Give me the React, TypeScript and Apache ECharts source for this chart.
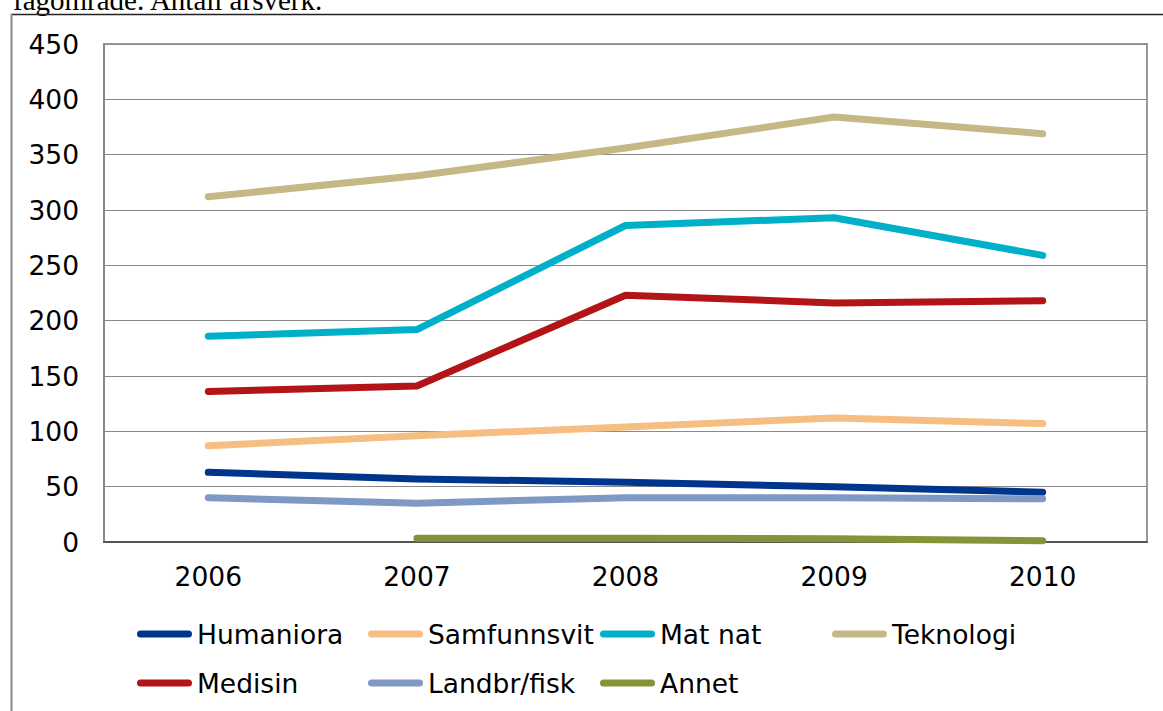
import React, { useEffect, useRef } from "react";
import * as echarts from "echarts";

const years = ["2006", "2007", "2008", "2009", "2010"];
const seriesNames = ["Humaniora", "Samfunnsvit", "Mat nat", "Teknologi", "Medisin", "Landbr/fisk", "Annet"];
const humaniora = [63, 57, 54, 50, 45];
const samfunnsvit = [87, 96, 104, 112, 107];
const matNat = [186, 192, 286, 293, 259];
const teknologi = [312, 331, 356, 384, 369];
const medisin = [136, 141, 223, 216, 218];
const landbrFisk = [40, 35, 40, 40, 39];
const annet = [null, 3.5, 3.5, 3, 1.2];
const seriesValues = [humaniora, samfunnsvit, matNat, teknologi, medisin, landbrFisk, annet];
const seriesColors = ["#00358E", "#F6BE82", "#00B0C9", "#C5B886", "#B21417", "#7F98C4", "#869339"];
const yTicks = [0, 450, 50];
const titleText = "fagområde. Antall årsverk.";

const legendPos = [
  [137, 619], [368, 619], [600, 619], [832, 619],
  [137, 668], [368, 668], [600, 668],
];

const FONT = "DejaVu Sans";

export default function App() {
  const ref = useRef<HTMLDivElement>(null);
  useEffect(() => {
    const chart = echarts.init(ref.current!, null, { renderer: "svg" });
    const icon = "path://M3.5,0 H51.5 A3.5,3.5 0 0 1 51.5,7 H3.5 A3.5,3.5 0 0 1 3.5,0 Z";
    chart.setOption({
      animation: false,
      backgroundColor: "#fff",
      grid: {
        left: 104, top: 44, right: 16, bottom: 169,
        show: true, borderColor: "#999", borderWidth: 2, backgroundColor: "transparent",
      },
      legend: seriesNames.map((n, i) => ({
        data: [{ name: n, icon }],
        left: legendPos[i][0],
        top: legendPos[i][1],
        itemWidth: 55,
        itemHeight: 7,
        padding: 0,
        selectedMode: false,
        textStyle: { fontFamily: FONT, fontSize: 26.5, color: "#000", lineHeight: 30 },
      })),
      xAxis: {
        type: "category",
        data: years,
        boundaryGap: true,
        axisLine: { show: true, lineStyle: { color: "#555", width: 2 } },
        axisTick: { show: false },
        axisLabel: { fontFamily: FONT, fontSize: 26.5, color: "#000", margin: 21 },
        splitLine: { show: false },
      },
      yAxis: {
        type: "value",
        min: yTicks[0],
        max: yTicks[1],
        interval: yTicks[2],
        axisLine: { show: true, lineStyle: { color: "#888", width: 2 } },
        axisTick: { show: false },
        axisLabel: { fontFamily: FONT, fontSize: 26.5, color: "#000", margin: 25 },
        splitLine: { show: true, lineStyle: { color: "#8a8a8a", width: 1 } },
      },
      graphic: [
        {
          type: "text",
          left: undefined,
          x: 13,
          y: 0,
          style: {
            text: titleText,
            font: '29px "Liberation Serif"',
            fill: "#000",
            verticalAlign: "middle",
            align: "left",
          },
        },
        { type: "line", shape: { x1: 11, y1: 14.5, x2: 1163, y2: 14.5 }, style: { stroke: "#222", lineWidth: 1.5 } },
        { type: "line", shape: { x1: 11.5, y1: 14, x2: 11.5, y2: 711 }, style: { stroke: "#888", lineWidth: 2 } },
      ],
      series: seriesNames.map((n, i) => ({
        name: n,
        type: "line",
        data: seriesValues[i],
        showSymbol: false,
        symbol: "none",
        connectNulls: false,
        color: seriesColors[i],
        itemStyle: { color: seriesColors[i] },
        lineStyle: { color: seriesColors[i], width: 7, cap: "round", join: "round" },
      })),
    });
    return () => chart.dispose();
  }, []);
  return <div ref={ref} style={{ position: "absolute", left: 0, top: 0, width: 1163, height: 711 }} />;
}
